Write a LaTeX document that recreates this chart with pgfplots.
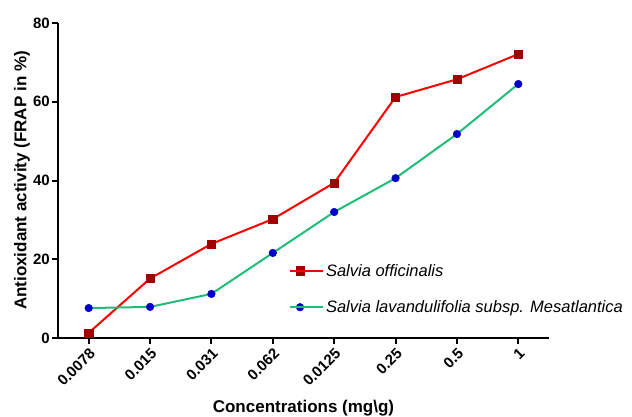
\documentclass[border=0pt]{standalone}
\usepackage{pgfplots}
\pgfplotsset{compat=1.18}
\usepackage{fontspec}
\setmainfont{Liberation Sans}
\definecolor{sored}{RGB}{255,0,0}
\definecolor{somark}{RGB}{160,0,0}
\definecolor{slgreen}{RGB}{30,190,120}
\definecolor{slblue}{RGB}{0,0,200}
\begin{document}
\begin{tikzpicture}
\useasboundingbox (-58bp,-79bp) rectangle (574bp,338bp);
\begin{axis}[
  scale only axis,
  width=491bp, height=315bp,
  xmin=-0.5, xmax=7.5,
  ymin=0, ymax=80,
  axis lines*=left,
  axis line style={line width=2.2bp},
  tick style={line width=2bp, black},
  tick align=outside,
  major tick length=6bp,
  xtick={0,1,2,3,4,5,6,7},
  xticklabels={0.0078,0.015,0.031,0.062,0.0125,0.25,0.5,1},
  ytick={0,20,40,60,80},
  /pgf/number format/assume math mode=true,
  tick label style={font=\bfseries\fontsize{15bp}{17bp}\selectfont},
  xticklabel style={rotate=45, anchor=north east, inner sep=2bp},
  yticklabel style={inner sep=2bp},
  xlabel={\bfseries Concentrations (mg\textbackslash g)},
  ylabel={\bfseries Antioxidant activity (FRAP in \%)},
  label style={font=\bfseries\fontsize{17bp}{19bp}\selectfont},
  xlabel style={at={(axis description cs:0.5,0)}, anchor=south, yshift=-79bp, inner sep=1bp},
  ylabel style={at={(axis description cs:0,0.5)}, anchor=center, yshift=36bp},
  legend style={at={(0.464,0.248)}, anchor=north west, draw=none, fill=none,
    font=\itshape\fontsize{16.5bp}{19bp}\selectfont, row sep=19bp},
  legend cell align=left,
  legend image code/.code={
    \draw[#1] (0bp,0bp) -- (20bp,0bp);
    \draw[#1, only marks] plot coordinates {(10bp,0bp)};
    \path (0bp,0bp) -- (33bp,0bp);
  },
]
\addplot[color=sored, line width=2bp, mark=square*, mark size=4.1bp,
  mark options={fill=somark, draw=somark, line width=0.5bp}]
  coordinates {(0,1.3) (1,15.1) (2,23.9) (3,30.2) (4,39.4) (5,61.2) (6,65.7) (7,72.1)};
\addlegendentry{Salvia officinalis}
\addplot[color=slgreen, line width=2bp, mark=*, mark size=3.8bp,
  mark options={fill=slblue, draw=slblue, line width=0.5bp}]
  coordinates {(0,7.6) (1,7.9) (2,11.2) (3,21.6) (4,32.0) (5,40.6) (6,51.8) (7,64.5)};
\addlegendentry{Salvia lavandulifolia subsp. Mesatlantica}
\end{axis}
\end{tikzpicture}
\end{document}
